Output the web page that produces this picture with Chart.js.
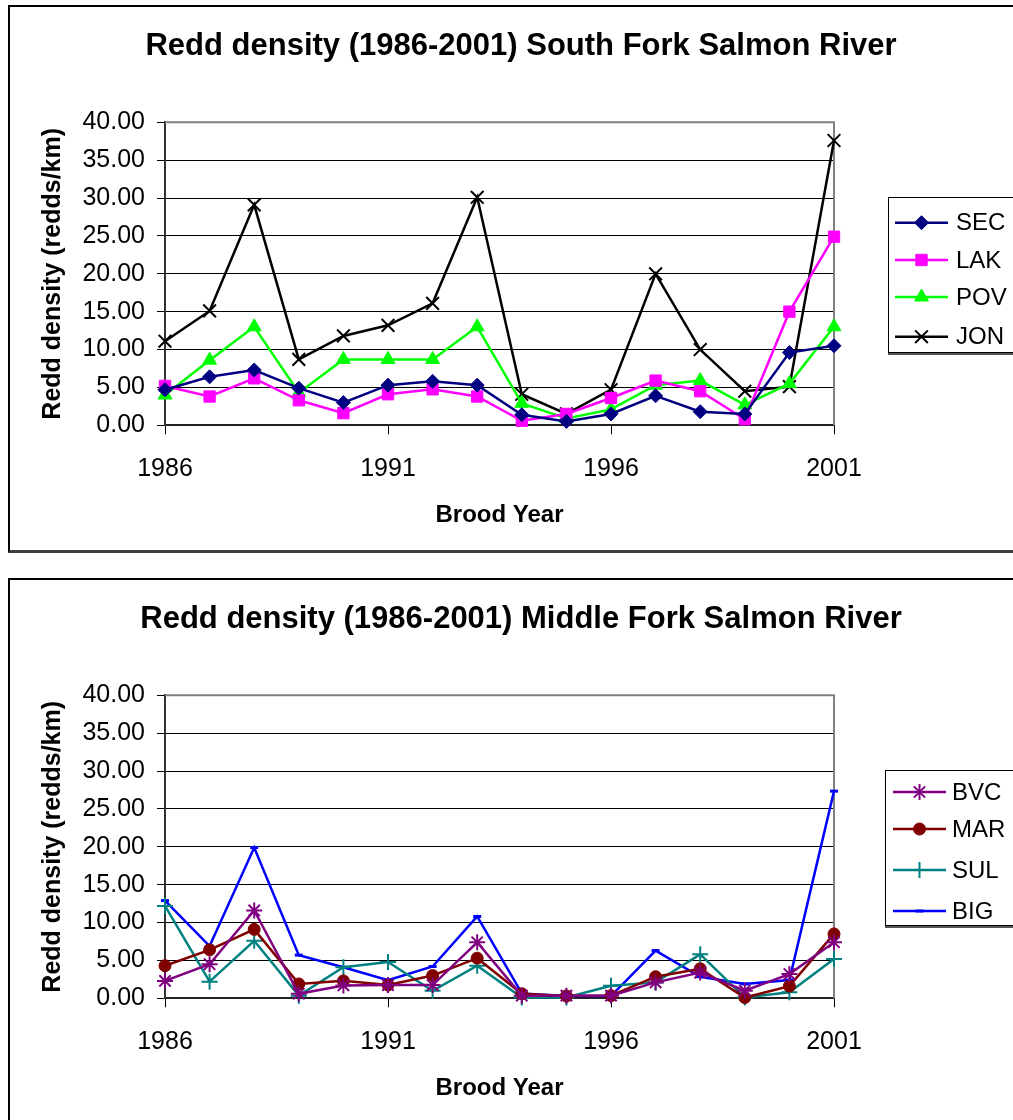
<!DOCTYPE html>
<html>
<head>
<meta charset="utf-8">
<script src="https://cdn.jsdelivr.net/npm/chart.js@4.4.0/dist/chart.umd.min.js"></script>
<style>
  html, body { margin: 0; padding: 0; background: #fff; overflow: hidden; }
  .panel { position: absolute; left: 8px; width: 1022px; height: 543px; background: #fff;
           border: 2px solid #000; border-bottom: 3px solid #404040; }
  .panel canvas { display: block; }
</style>
</head>
<body>
<div class="panel" style="top:5px"><canvas id="southChart" width="1022" height="543"></canvas></div>
<div class="panel" style="top:578px"><canvas id="middleChart" width="1022" height="543"></canvas></div>
<script>
// brood years and the years that get a tick label
const years = [1986, 1987, 1988, 1989, 1990, 1991, 1992, 1993, 1994, 1995, 1996, 1997, 1998, 1999, 2000, 2001];
const yearTicks = [1986, 1991, 1996, 2001];

// South Fork (redds/km)
const secVals = [4.7, 6.4, 7.3, 4.9, 3.0, 5.3, 5.8, 5.3, 1.4, 0.5, 1.5, 3.9, 1.8, 1.5, 9.6, 10.5];
const lakVals = [5.2, 3.8, 6.2, 3.3, 1.6, 4.1, 4.75, 3.8, 0.6, 1.5, 3.6, 5.9, 4.5, 0.8, 15.0, 24.9];
const povVals = [4.0, 8.6, 13.0, 4.3, 8.7, 8.7, 8.7, 13.0, 2.9, 0.9, 2.1, 5.3, 5.9, 2.7, 5.5, 13.0];
const jonVals = [11.1, 15.1, 29.1, 8.7, 11.8, 13.2, 16.1, 30.1, 4.1, 1.5, 4.7, 20.0, 10.0, 4.5, 5.1, 37.6];

// Middle Fork (redds/km)
const bvcVals = [2.3, 4.5, 11.6, 0.6, 1.7, 1.75, 1.75, 7.4, 0.35, 0.35, 0.35, 2.1, 3.4, 1.0, 3.2, 7.4];
const marVals = [4.3, 6.4, 9.1, 1.9, 2.3, 1.75, 3.0, 5.3, 0.6, 0.3, 0.35, 2.85, 3.9, 0.1, 1.6, 8.5];
const sulVals = [12.2, 2.2, 7.6, 0.35, 4.1, 4.8, 1.0, 4.3, 0.1, 0.1, 1.65, 2.1, 5.8, 0.1, 0.8, 5.2];
const bigVals = [12.9, 6.9, 19.9, 5.7, 4.1, 2.4, 4.2, 10.8, 0.65, 0.3, 0.3, 6.3, 2.85, 1.9, 2.4, 27.35];

const FONT = 'Liberation Sans, Arial, sans-serif';

function series(label, vals, color, pointStyle, radius, pbw) {
  return {
    label,
    data: vals.map((v, i) => ({ x: years[i], y: v })),
    borderColor: color, backgroundColor: color,
    borderWidth: 2.5, tension: 0, clip: false,
    pointStyle, pointRadius: radius,
    pointBackgroundColor: color, pointBorderColor: color, pointBorderWidth: pbw
  };
}

// gray frame on top and right of the plot area
const plotFrame = {
  id: 'plotFrame',
  beforeDatasetsDraw(chart) {
    const { ctx, chartArea: a } = chart;
    ctx.save();
    ctx.strokeStyle = '#808080';
    ctx.lineWidth = 2;
    ctx.beginPath();
    ctx.moveTo(a.left, a.top);
    ctx.lineTo(a.right, a.top);
    ctx.lineTo(a.right, a.bottom);
    ctx.stroke();
    ctx.restore();
  }
};

// boxed legend at the right, like the spreadsheet one
const boxLegend = {
  id: 'boxLegend',
  afterDraw(chart, args, opts) {
    const { ctx } = chart;
    ctx.save();
    ctx.fillStyle = '#fff';
    ctx.fillRect(opts.left, opts.top, chart.width - opts.left + 5, opts.bottom - opts.top);
    ctx.strokeStyle = '#000';
    ctx.lineWidth = 1;
    ctx.strokeRect(opts.left + 0.5, opts.top + 0.5, chart.width, opts.bottom - opts.top);
    ctx.fillStyle = '#555';
    ctx.fillRect(opts.left, opts.bottom + 1, chart.width, 2);
    chart.data.datasets.forEach((ds, i) => {
      const y = opts.rows[i];
      ctx.strokeStyle = ds.borderColor;
      ctx.lineWidth = ds.borderWidth;
      ctx.beginPath();
      ctx.moveTo(opts.lineX0, y);
      ctx.lineTo(opts.lineX1, y);
      ctx.stroke();
      ctx.fillStyle = ds.pointBackgroundColor;
      ctx.strokeStyle = ds.pointBorderColor;
      ctx.lineWidth = ds.pointBorderWidth;
      Chart.helpers.drawPoint(ctx, { pointStyle: ds.pointStyle, radius: ds.pointRadius, borderWidth: ds.pointBorderWidth, rotation: 0 },
        (opts.lineX0 + opts.lineX1) / 2, y);
      ctx.fillStyle = '#000';
      ctx.font = '24px ' + FONT;
      ctx.textBaseline = 'middle';
      ctx.textAlign = 'left';
      ctx.fillText(ds.label, opts.textX, y + 1);
    });
    ctx.restore();
  }
};

function makeChart(id, title, datasets, legendOpts) {
  return new Chart(document.getElementById(id), {
    type: 'line',
    data: { datasets },
    options: {
      responsive: false,
      animation: false,
      events: [],
      layout: { padding: 0 },
      plugins: {
        legend: { display: false },
        tooltip: { enabled: false },
        title: {
          display: true, text: title, color: '#000',
          font: { family: FONT, size: 31, weight: 'bold' },
          padding: { top: 20.4, bottom: 57.7 }
        },
        boxLegend: legendOpts
      },
      scales: {
        x: {
          type: 'linear', min: 1986, max: 2001,
          afterBuildTicks: s => { s.ticks = yearTicks.map(v => ({ value: v })); },
          afterFit: s => { s.height = 124.7; },
          ticks: { callback: v => String(v), color: '#000', font: { family: FONT, size: 25 }, padding: 20, maxRotation: 0, autoSkip: false },
          grid: { drawOnChartArea: false, tickLength: 9, color: '#000', lineWidth: 1 },
          border: { color: '#222', width: 2 },
          title: { display: true, text: 'Brood Year', color: '#000', font: { family: FONT, size: 24, weight: 'bold' }, padding: { top: 0, bottom: 20 } }
        },
        y: {
          min: 0, max: 40,
          afterFit: s => { s.width = 155; },
          ticks: { stepSize: 5, callback: v => v.toFixed(2), color: '#000', font: { family: FONT, size: 25 }, padding: 12 },
          grid: { color: '#000', lineWidth: 1, tickLength: 8 },
          border: { color: '#333', width: 2 },
          title: { display: true, text: 'Redd density (redds/km)', color: '#000', font: { family: FONT, size: 25, weight: 'bold' }, padding: { top: 28, bottom: 0 } }
        },
        // empty right-hand axis that only keeps room for the legend
        legendRoom: {
          position: 'right', min: 0, max: 40,
          afterFit: s => { s.width = 198; },
          ticks: { display: false },
          grid: { display: false },
          border: { display: false }
        }
      }
    },
    plugins: [plotFrame, boxLegend]
  });
}

makeChart('southChart', 'Redd density (1986-2001) South Fork Salmon River', [
  series('SEC', secVals, '#000080', 'rectRot', 7, 1),
  series('LAK', lakVals, '#FF00FF', 'rect', 8, 1),
  series('POV', povVals, '#00FF00', 'triangle', 8, 1),
  series('JON', jonVals, '#000000', 'crossRot', 9, 2)
], { left: 878, top: 190, bottom: 345, lineX0: 885, lineX1: 938, textX: 946, rows: [215.7, 253, 290, 329.7] });

makeChart('middleChart', 'Redd density (1986-2001) Middle Fork Salmon River', [
  series('BVC', bvcVals, '#800080', 'star', 8, 2),
  series('MAR', marVals, '#800000', 'circle', 6, 1),
  series('SUL', sulVals, '#008080', 'cross', 8, 2),
  series('BIG', bigVals, '#0000FF', 'line', 4, 3)
], { left: 875, top: 190, bottom: 345, lineX0: 883, lineX1: 936, textX: 942, rows: [212, 249, 290, 331] });
</script>
</body>
</html>
